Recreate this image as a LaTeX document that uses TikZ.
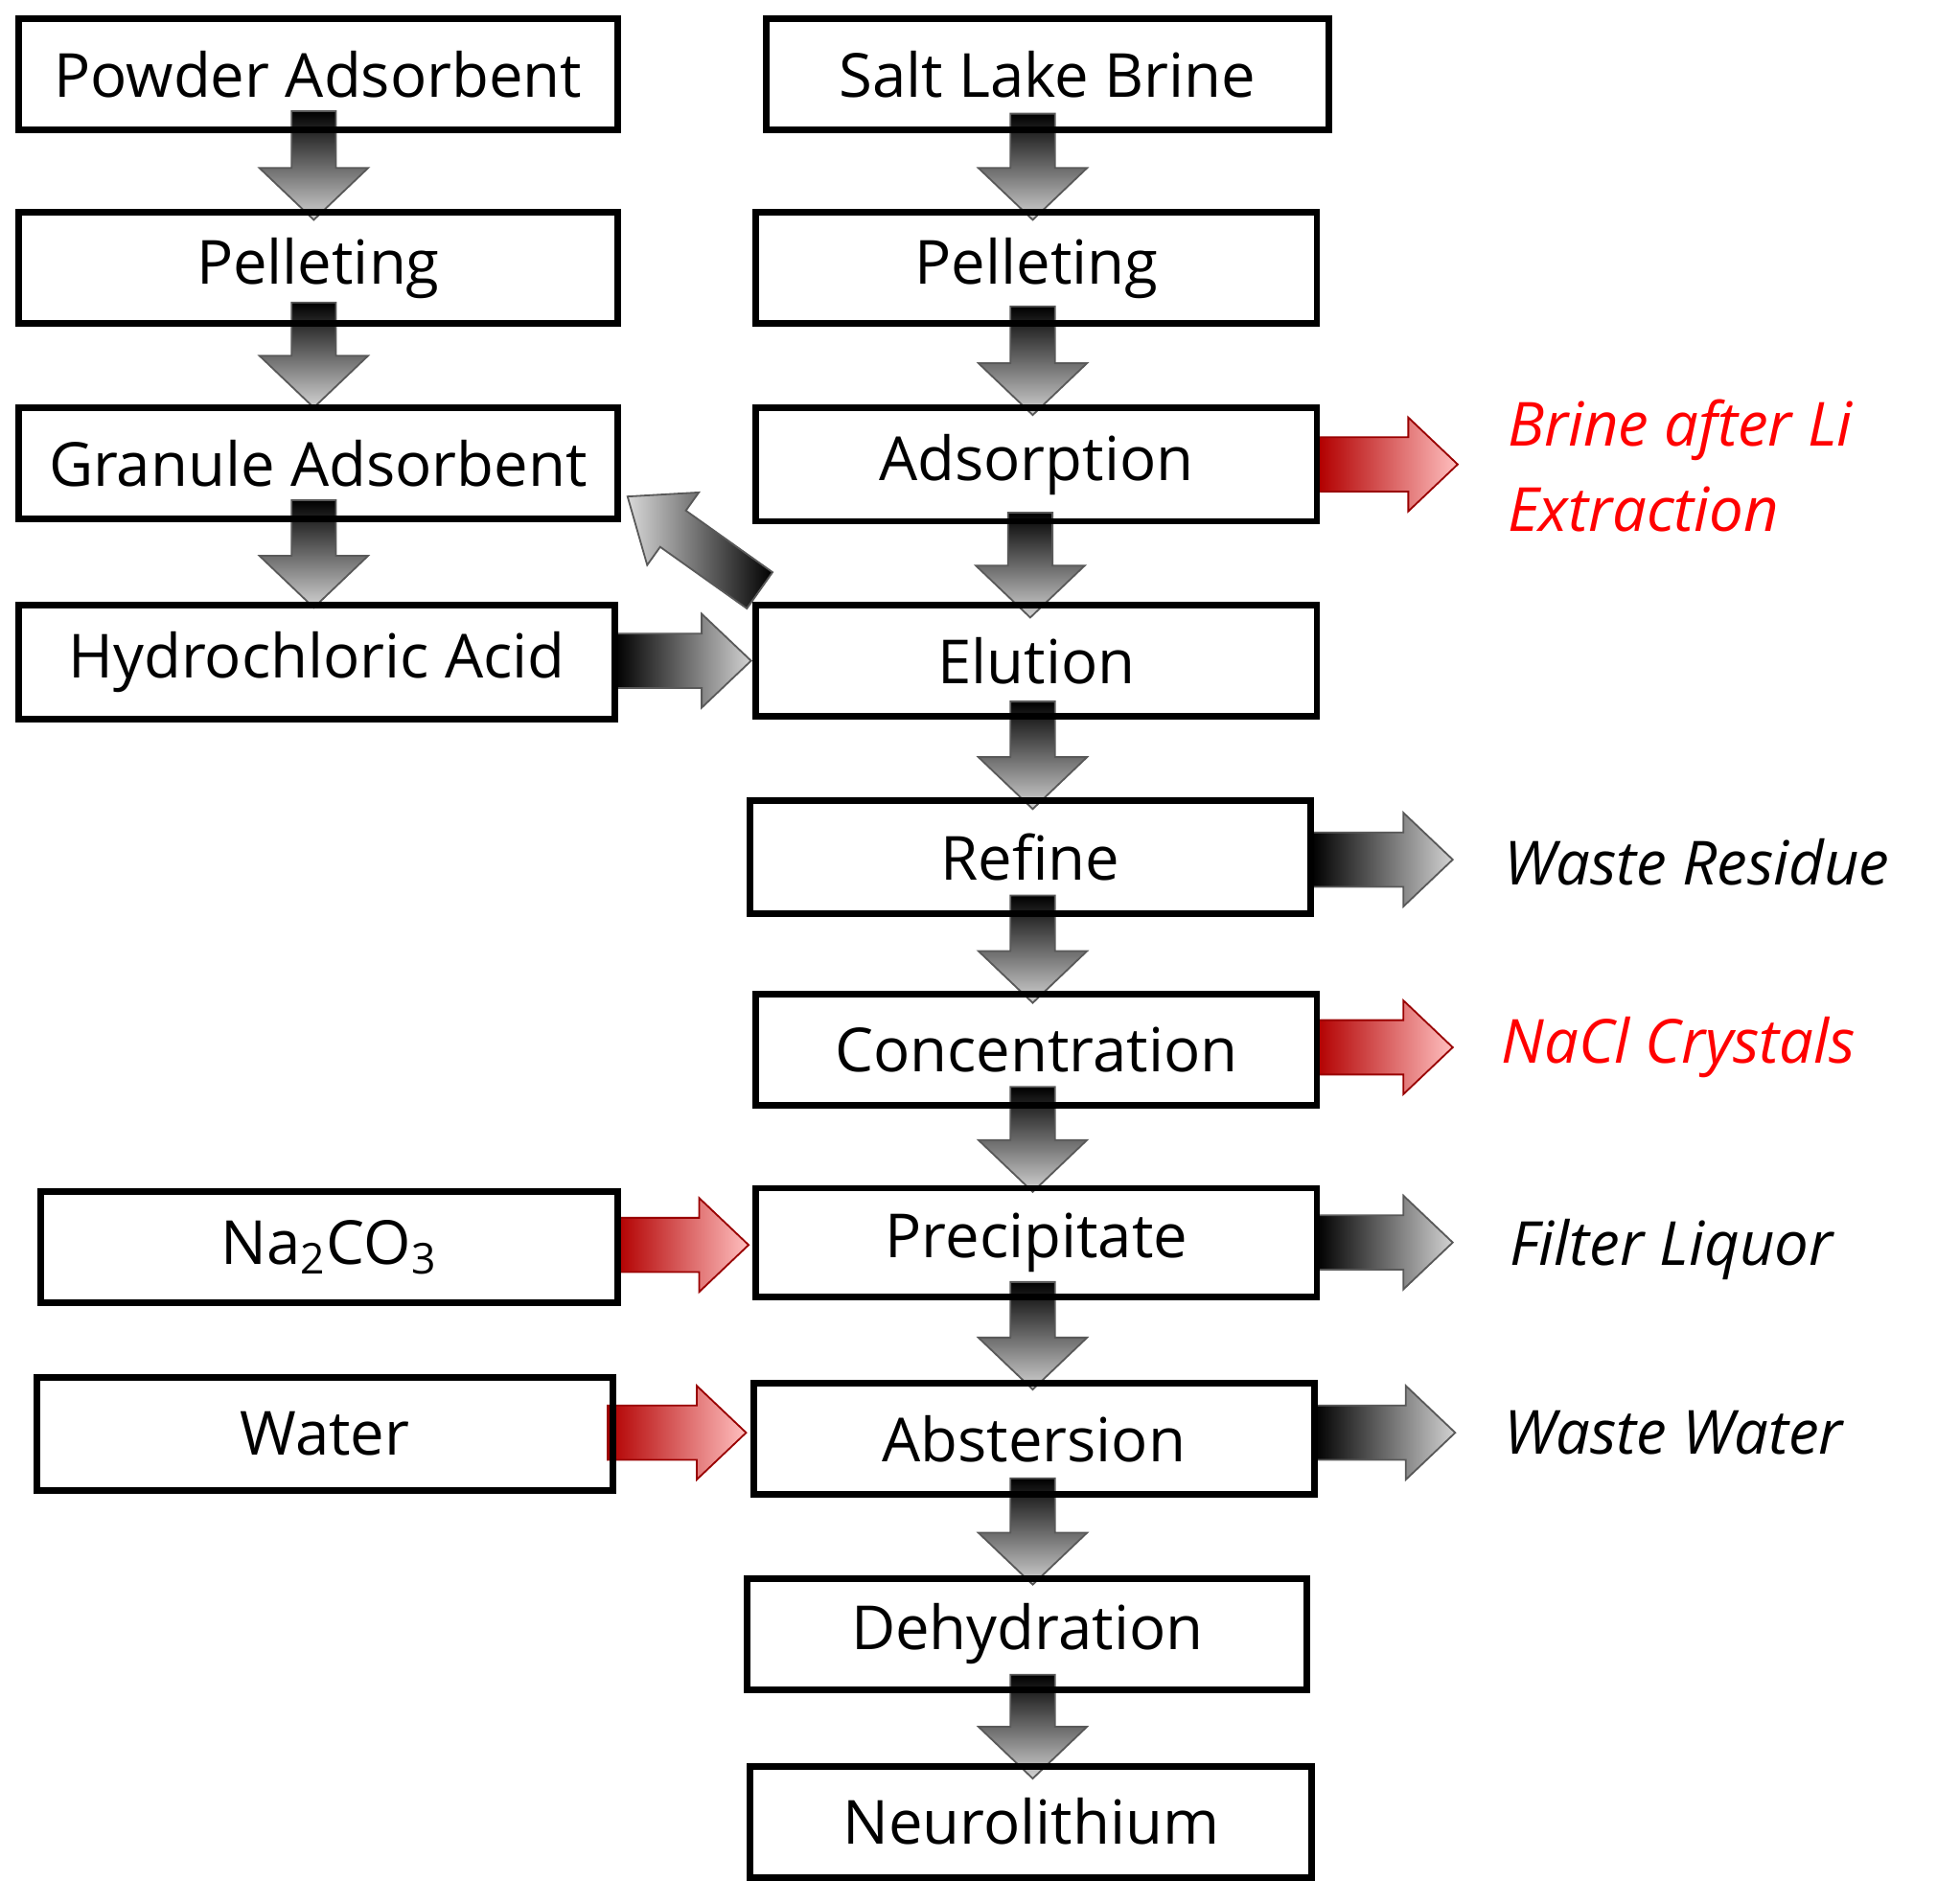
\documentclass[tikz,border=0pt]{standalone}
\usepackage{fontspec}
\setmainfont{Open Sans}
\usetikzlibrary{fit}
\begin{document}
\begin{tikzpicture}[x=0.01cm,y=-0.01cm,
  box/.style={draw=black,line width=1.5pt,inner sep=0pt},
  lbl/.style={font=\fontsize{14}{17}\selectfont},
  outl/.style={font=\fontsize{14}{17}\selectfont\itshape,anchor=west},
  garr/.style={draw=gray!70!black,line width=0.4pt},
]
\useasboundingbox (0,0) rectangle (1568,1541);
\newcommand\bx[6]{\node[box,fit={(#2,#3)(#4,#5)}] (#1) {}; \node[lbl] at (#1.center) {#6};}
\newcommand\darr[3]{\shade[garr,top color=black,bottom color=gray!35] (#1-18,#2)--(#1+18,#2)--(#1+18,#3-42)--(#1+44,#3-42)--(#1,#3)--(#1-44,#3-42)--(#1-18,#3-42)--cycle;}
\newcommand\rarrg[3]{\shade[garr,left color=black,right color=gray!35] (#2,#1-22)--(#3-40,#1-22)--(#3-40,#1-38)--(#3,#1)--(#3-40,#1+38)--(#3-40,#1+22)--(#2,#1+22)--cycle;}
\newcommand\rarrr[3]{\shade[draw=red!60!black,line width=0.4pt,left color=red!70!black,middle color=red!85,right color=red!25] (#2,#1-22)--(#3-40,#1-22)--(#3-40,#1-38)--(#3,#1)--(#3-40,#1+38)--(#3-40,#1+22)--(#2,#1+22)--cycle;}
% arrows first
\darr{254}{90}{178}\darr{254}{245}{330}\darr{254}{405}{492}
\darr{836}{92}{178}\darr{836}{248}{336}\darr{834}{415}{500}\darr{836}{568}{655}
\darr{836}{725}{812}\darr{836}{880}{965}\darr{836}{1038}{1125}\darr{836}{1197}{1283}\darr{836}{1356}{1440}
\rarrg{535}{498}{608}\rarrr{1008}{500}{606}\rarrr{1160}{492}{604}
\rarrr{376}{1068}{1180}\rarrg{696}{1062}{1176}\rarrr{848}{1066}{1176}
\rarrg{1006}{1066}{1176}\rarrg{1160}{1064}{1178}
\shade[garr,left color=gray!30,right color=black] (625.4,463.3)--(555.2,413.4)--(565.7,398.7)--(508,402)--(523.9,457.5)--(534.4,442.8)--(604.6,492.7)--cycle;
% boxes
\bx{pa}{15}{15}{500}{105}{Powder Adsorbent}
\bx{pl}{15}{172}{500}{262}{Pelleting}
\bx{ga}{15}{330}{500}{420}{Granule Adsorbent}
\bx{hc}{15}{490}{498}{582}{Hydrochloric Acid}
\bx{na}{33}{965}{500}{1055}{Na\textsubscript{2}CO\textsubscript{3}}
\bx{wa}{30}{1115}{496}{1207}{Water}
\bx{sl}{620}{15}{1076}{105}{Salt Lake Brine}
\bx{pr}{612}{172}{1066}{262}{Pelleting}
\bx{ad}{612}{330}{1066}{422}{Adsorption}
\bx{el}{612}{490}{1066}{580}{Elution}
\bx{re}{607}{648}{1061}{740}{Refine}
\bx{co}{612}{805}{1066}{895}{Concentration}
\bx{pp}{612}{962}{1066}{1050}{Precipitate}
\bx{ab}{610}{1120}{1064}{1210}{Abstersion}
\bx{de}{605}{1278}{1058}{1368}{Dehydration}
\bx{ne}{607}{1430}{1062}{1520}{Neurolithium}
% outputs
\node[outl,text=red] (o1) at (1208,348) {Brine after Li};
\node[outl,text=red] (o1b) at (1208,412) {Extraction};
\node[outl] (o2) at (1205,698) {Waste Residue};
\node[outl,text=red] (o3) at (1203,848) {NaCl Crystals};
\node[outl] (o4) at (1210,1012) {Filter Liquor};
\node[outl] (o5) at (1205,1160) {Waste Water};
\end{tikzpicture}
\end{document}
